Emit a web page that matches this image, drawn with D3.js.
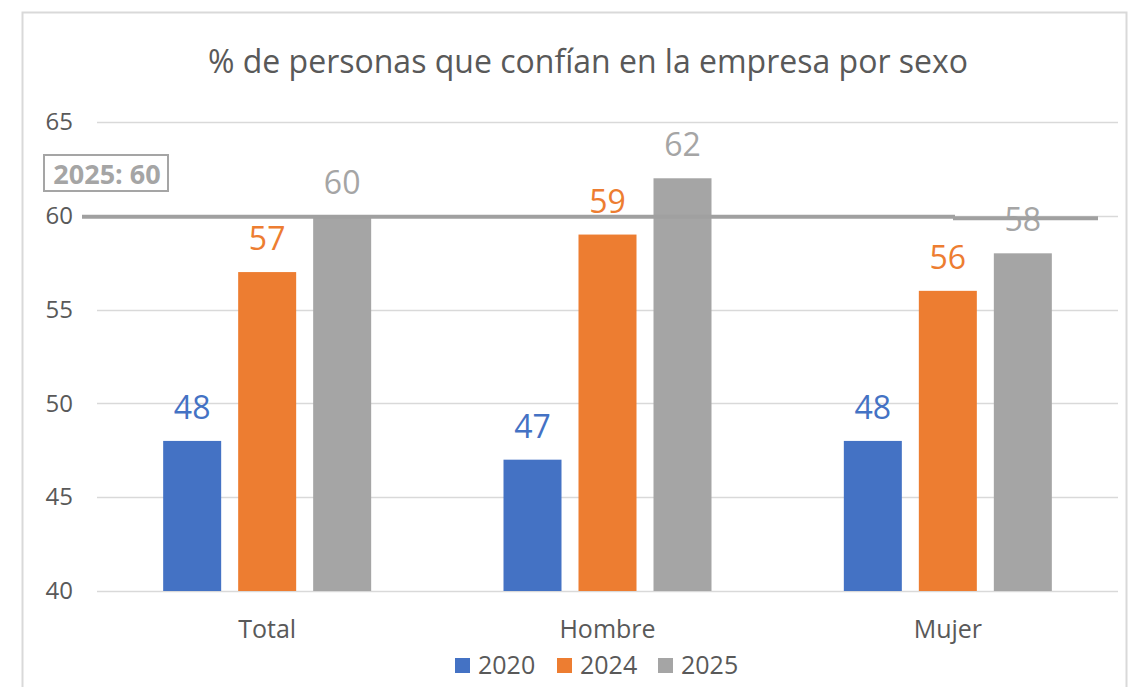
<!DOCTYPE html>
<html><head><meta charset="utf-8">
<script src="https://cdn.jsdelivr.net/npm/d3@7"></script>
<style>body{margin:0;background:#fff;} svg{display:block;font-family:"Open Sans","Noto Sans",sans-serif;}</style>
</head><body><svg id="c" width="1133" height="687"></svg>
<script>
const title = "% de personas que confían en la empresa por sexo";
const categories = ["Total","Hombre","Mujer"];
const seriesNames = ["2020","2024","2025"];
const values2020 = [48,47,48];
const values2024 = [57,59,56];
const values2025 = [60,62,58];
const yTicks = [40,45,50,55,60,65];
const refValue = 60;
const refLabel = "2025: 60";
const colors = ["#4472C4","#ED7D31","#A5A5A5"];

const svg = d3.select("#c");
const seriesVals = [values2020, values2024, values2025];

// frame
svg.append("rect").attr("x",22.5).attr("y",12.5).attr("width",1104).attr("height",700)
  .attr("fill","#fff").attr("stroke","#d9d9d9").attr("stroke-width",2);

const left=97, right=1118;
const y = d3.scaleLinear().domain([40,65]).range([591,122]);
const x0 = d3.scaleBand().domain(categories).range([left,right]).paddingInner(0).paddingOuter(0);
const bw = 58, gap = 17;
const x1 = d3.scaleBand().domain(seriesNames).range([-(3*bw+2*gap)/2,(3*bw+2*gap)/2]).paddingInner(gap/(bw+gap));

svg.append("text").attr("x",588).attr("y",73).attr("text-anchor","middle")
  .attr("font-size",32).attr("fill","#595959").text(title);

// grid
svg.append("g").selectAll("line").data(yTicks).join("line")
  .attr("x1",left).attr("x2",right).attr("y1",d=>Math.round(y(d))+0.5).attr("y2",d=>Math.round(y(d))+0.5)
  .attr("stroke","#d9d9d9").attr("stroke-width",1.5);

const yAxis = d3.axisLeft(y).tickValues(yTicks).tickSize(0).tickPadding(0);
const ga = svg.append("g").attr("transform",`translate(73,0)`).call(yAxis);
ga.attr("font-size",null).attr("font-family",null);
ga.select(".domain").remove();
ga.selectAll("text").attr("font-size",24).attr("fill","#595959");

// bars
const groups = svg.append("g").selectAll("g").data(categories).join("g")
  .attr("transform",c=>`translate(${x0(c)+x0.bandwidth()/2},0)`);
seriesNames.forEach((s,si)=>{
  groups.append("rect")
    .attr("x",x1(s)).attr("width",x1.bandwidth())
    .attr("y",(c,i)=>y(seriesVals[si][i])).attr("height",(c,i)=>y(40)-y(seriesVals[si][i]))
    .attr("fill",colors[si]);
});

// reference line
svg.append("line").attr("x1",82).attr("x2",955).attr("y1",y(refValue)+1).attr("y2",y(refValue)+1)
  .attr("stroke","#A0A0A0").attr("stroke-width",4);
svg.append("line").attr("x1",953).attr("x2",1098).attr("y1",y(refValue)+2.5).attr("y2",y(refValue)+2.5)
  .attr("stroke","#A0A0A0").attr("stroke-width",4);

// labels
seriesNames.forEach((s,si)=>{
  groups.append("text")
    .attr("x",x1(s)+x1.bandwidth()/2).attr("y",(c,i)=>y(seriesVals[si][i])-22)
    .attr("text-anchor","middle").attr("font-size",32).attr("fill",colors[si])
    .text((c,i)=>seriesVals[si][i]);
});

// ref label box
svg.append("rect").attr("x",44).attr("y",155).attr("width",124).attr("height",36)
  .attr("fill","#fff").attr("stroke","#A5A5A5").attr("stroke-width",2);
svg.append("text").attr("x",107).attr("y",183.5).attr("text-anchor","middle")
  .attr("font-size",27).attr("font-weight","bold").attr("fill","#A5A5A5").text(refLabel);

// category axis
const xAxis = d3.axisBottom(x0).tickSize(0).tickPadding(0);
const gx = svg.append("g").attr("transform","translate(0,620)").call(xAxis);
gx.attr("font-size",null).attr("font-family",null);
gx.select(".domain").remove();
gx.selectAll("text").attr("font-size",25).attr("fill","#595959");

// legend
const legX = [455,557,658];
const lg = svg.append("g").selectAll("g").data(seriesNames).join("g")
  .attr("transform",(d,i)=>`translate(${legX[i]},0)`);
lg.append("rect").attr("x",0).attr("y",658).attr("width",15).attr("height",15).attr("fill",(d,i)=>colors[i]);
lg.append("text").attr("x",23).attr("y",674).attr("font-size",25).attr("fill","#595959").text(d=>d);
</script></body></html>
